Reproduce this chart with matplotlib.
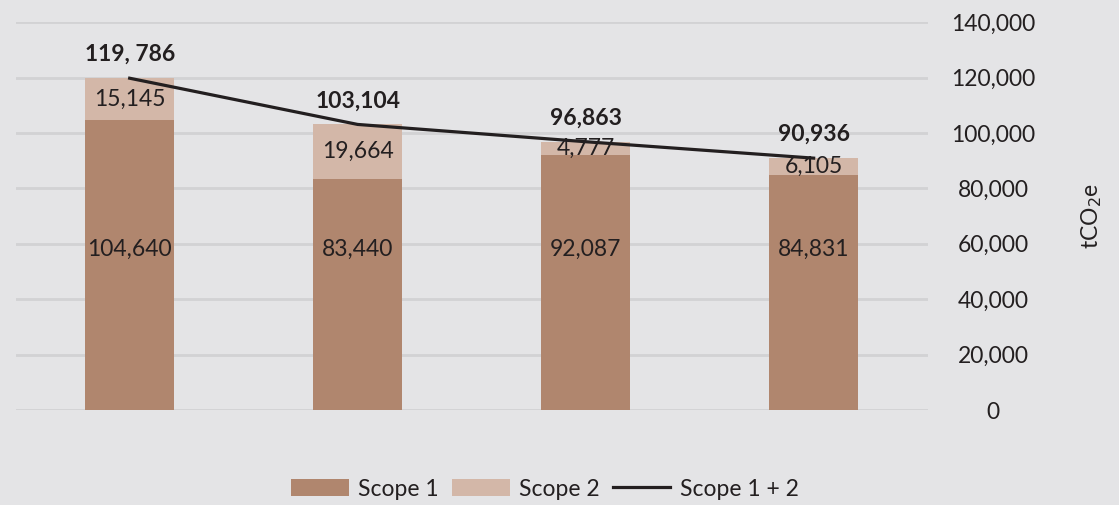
import matplotlib.pyplot as plt
from matplotlib.ticker import FuncFormatter

plt.rcParams['font.family'] = ['Lato', 'DejaVu Sans']

years = ['A', 'B', 'C', 'D']
scope1 = [104640, 83440, 92087, 84831]
scope2 = [15145, 19664, 4777, 6105]
totals = [119786, 103104, 96863, 90936]
total_labels = ['119, 786', '103,104', '96,863', '90,936']

bg = '#e4e4e6'
c1 = '#b0866e'
c2 = '#d3b7a8'
txt = '#231f20'

fig = plt.figure(figsize=(11.19, 5.05), dpi=100, facecolor=bg)
ax = fig.add_axes([0.014, 0.188, 0.815, 0.768], facecolor=bg)

x = range(len(years))
b1 = ax.bar(x, scope1, width=0.39, color=c1, label='Scope 1', zorder=2)
b2 = ax.bar(x, scope2, bottom=scope1, width=0.39, color=c2, label='Scope 2', zorder=2)
ln, = ax.plot(x, totals, color=txt, lw=2.3, label='Scope 1 + 2', zorder=3)

# values inside the bars and totals above
for i in x:
    ax.text(i, 58000, f'{scope1[i]:,}', ha='center', va='center',
            fontsize=16.5, color=txt, zorder=4)
    ax.text(i, scope1[i] + scope2[i] / 2, f'{scope2[i]:,}', ha='center', va='center',
            fontsize=16.5, color=txt, zorder=4)
    ax.text(i, totals[i] + 8500, total_labels[i], ha='center', va='center',
            fontsize=16.5, fontweight='bold', color=txt, zorder=4)

ax.set_xlim(-0.5, 3.5)
ax.set_ylim(0, 140000)
ax.set_yticks(range(0, 140001, 20000))
ax.yaxis.set_major_formatter(FuncFormatter(lambda v, p: f'{int(v):,}'))
ax.yaxis.tick_right()
ax.yaxis.set_label_position('right')
ax.tick_params(axis='y', length=0, pad=47, labelsize=16.5, labelcolor=txt)
for lab in ax.get_yticklabels():
    lab.set_horizontalalignment('center')
ax.set_xticks([])
ax.set_ylabel('tCO$_2$e', fontsize=16.5, color=txt, labelpad=32)
ax.grid(axis='y', color='#d2d2d4', lw=2, zorder=0)
for s in ax.spines.values():
    s.set_visible(False)

fig.legend(handles=[b1, b2, ln], loc='lower center', bbox_to_anchor=(0.487, -0.03),
           ncol=3, frameon=False, fontsize=16.5, handlelength=2.5, handleheight=0.8,
           columnspacing=0.6, handletextpad=0.4, labelcolor=txt)

plt.savefig('out.png', dpi=100, facecolor=bg)
plt.close()
